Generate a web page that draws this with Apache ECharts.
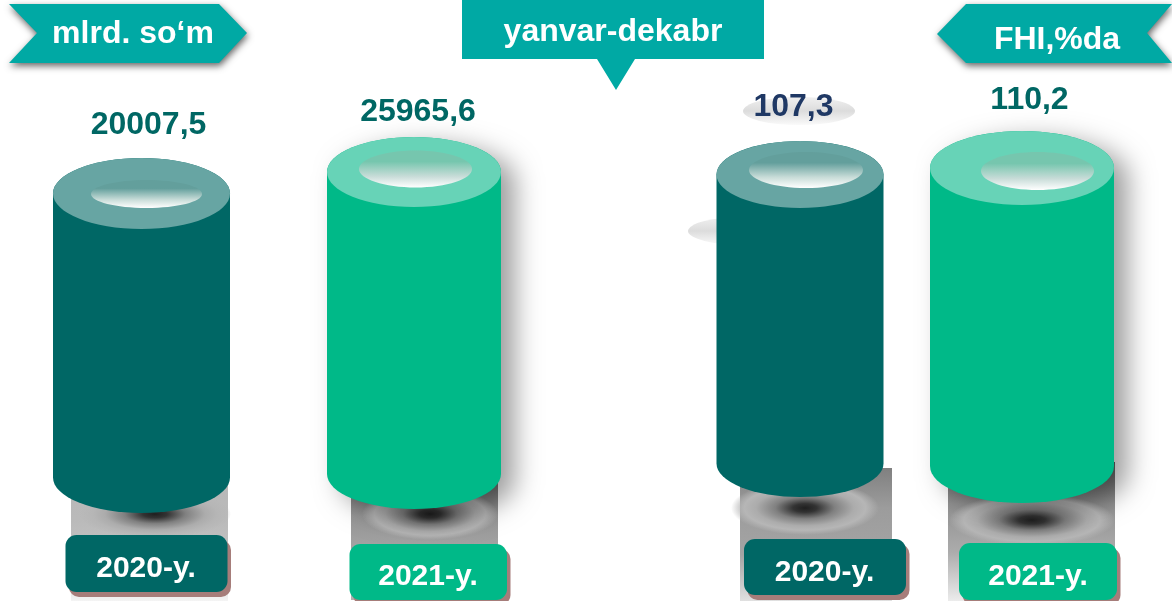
<!DOCTYPE html>
<html>
<head>
<meta charset="utf-8">
<script src="https://cdn.jsdelivr.net/npm/echarts@6/dist/echarts.min.js"></script>
<style>
  html, body { margin: 0; padding: 0; background: #fff; }
  #main { width: 1172px; height: 601px; }
</style>
</head>
<body>
<div id="main"></div>
<script>
var chartDom = document.getElementById('main');
var myChart = echarts.init(chartDom);

// data
let leftYears = ['2020-y.', '2021-y.'];
let leftValues = [20007.5, 25965.6];
let rightYears = ['2020-y.', '2021-y.'];
let rightValues = [107.3, 110.2];
let unitLeft = 'mlrd. so‘m';
let unitRight = 'FHI,%da';
let period = 'yanvar-dekabr';

const FONT = '"Liberation Sans", Arial, sans-serif';
const DARK = ['#006765', '#67a5a3', '#639f9c'];
const GREEN = ['#00b988', '#67d3b7', '#76c6ae'];
const TEAL = '#00a9a4';

// look of each cylinder, pixels, not data
let leftLook = [
  { colors: DARK, rx: 88.5, ry: 35.5, bottom: 513, hole: [146.5, 194, 55.5, 14], labelDx: 7, labelY: 125.5, labelColor: '#006764',
    patch: [71, 485, 157, 116], patchStops: ['#b8b8b8', '#bababa', '#c4c4c4', '#f4f4f4'], blob: [155, 514, 76, 24],
    btn: [65.5, 535, 162, 57], btnText: [146, 569] },
  { colors: GREEN, rx: 87, ry: 35, bottom: 509, hole: [415.5, 169, 56.5, 18.5], labelDx: 4, labelY: 112.5, labelColor: '#006764', shadow: true,
    patch: [351, 480, 147, 120], patchStops: ['#707070', '#959595', '#a8a8a8', '#b0b0b0'], blob: [430, 514, 68, 26],
    btn: [349.5, 544, 157.5, 56], btnText: [428, 577] }
];
let rightLook = [
  { colors: DARK, rx: 83.5, ry: 33.5, bottom: 497, hole: [806, 170, 57, 18], labelDx: -6.5, labelY: 107.5, labelColor: '#1f3864',
    patch: [740, 468, 152, 133], patchStops: ['#808080', '#9c9c9c', '#a4a4a4', '#e0e0e0'], blob: [805, 508, 74, 27],
    btn: [744, 539, 162, 56], btnText: [824.5, 573] },
  { colors: GREEN, rx: 92, ry: 37, bottom: 503, hole: [1037.5, 171, 56.5, 19], labelDx: 7.5, labelY: 100.5, labelColor: '#006764', shadow: true,
    patch: [948, 462, 167, 139], patchStops: ['#606060', '#909090', '#acacac', '#ececec'], blob: [1032, 520, 83, 26],
    btn: [959, 543, 158, 57], btnText: [1038, 577] }
];

function formatValue(v) {
  return String(v).replace('.', ',');
}

function softEllipse(cx, cy, rx, ry, stops, z) {
  return {
    type: 'circle', x: cx, y: cy, scaleX: rx, scaleY: ry, z2: z,
    shape: { cx: 0, cy: 0, r: 1 },
    style: { fill: new echarts.graphic.RadialGradient(0.5, 0.5, 0.5, stops) }
  };
}

function cylinder(look, years) {
  return function (params, api) {
    let i = api.value(0);
    let look1 = look[i];
    let top = api.coord([i, api.value(1)]);
    let cx = top[0], cy = top[1];
    let rx = look1.rx, ry = look1.ry;
    let side = look1.bottom - ry;
    let left = cx - rx, right = cx + rx;
    let bodyPath = 'M' + left + ' ' + cy + 'L' + left + ' ' + side +
      'A' + rx + ' ' + ry + ' 0 0 0 ' + right + ' ' + side +
      'L' + right + ' ' + cy +
      'A' + rx + ' ' + ry + ' 0 0 0 ' + left + ' ' + cy + 'Z';
    let p = look1.patch, s = look1.patchStops, b = look1.blob, h = look1.hole, n = look1.btn;
    let bodyStyle = { fill: look1.colors[0] };
    if (look1.shadow) {
      bodyStyle.shadowColor = 'rgba(0,0,0,0.38)';
      bodyStyle.shadowBlur = 26;
      bodyStyle.shadowOffsetX = 14;
      bodyStyle.shadowOffsetY = 8;
    }
    return {
      type: 'group',
      children: [
        // ground shadow
        {
          type: 'rect', z2: 1,
          shape: { x: p[0], y: p[1], width: p[2], height: p[3] },
          style: {
            fill: new echarts.graphic.LinearGradient(0, 0, 0, 1, [
              { offset: 0, color: s[0] },
              { offset: 0.3, color: s[1] },
              { offset: 0.65, color: s[2] },
              { offset: 1, color: s[3] }
            ])
          }
        },
        softEllipse(b[0], b[1], b[2], b[3], [
          { offset: 0, color: '#1f1f1f' },
          { offset: 0.16, color: '#333333' },
          { offset: 0.4, color: '#808080' },
          { offset: 0.66, color: '#acacac' },
          { offset: 0.82, color: '#b6b6b6' },
          { offset: 1, color: 'rgba(182,182,182,0)' }
        ], 2),
        { type: 'path', z2: 3, shape: { pathData: bodyPath }, style: bodyStyle },
        { type: 'ellipse', z2: 4, shape: { cx: cx, cy: cy, rx: rx, ry: ry }, style: { fill: look1.colors[1] } },
        {
          type: 'ellipse', z2: 5,
          shape: { cx: h[0], cy: h[1], rx: h[2], ry: h[3] },
          style: {
            fill: new echarts.graphic.LinearGradient(0, 0, 0, 1, [
              { offset: 0, color: look1.colors[2] },
              { offset: 0.3, color: look1.colors[2] },
              { offset: 0.7, color: '#c8dcd8' },
              { offset: 1, color: '#ffffff' }
            ])
          }
        },
        // value
        {
          type: 'text', z2: 7,
          style: {
            text: formatValue(api.value(1)), x: cx + look1.labelDx, y: look1.labelY,
            align: 'center', verticalAlign: 'middle',
            fontFamily: FONT, fontWeight: 'bold', fontSize: 32, fill: look1.labelColor
          }
        },
        // year button
        {
          type: 'rect', z2: 8,
          shape: { x: n[0] + 3.5, y: n[1] + 5, width: n[2], height: n[3], r: 10 },
          style: { fill: '#a67d7a' }
        },
        {
          type: 'rect', z2: 9,
          shape: { x: n[0], y: n[1], width: n[2], height: n[3], r: 11 },
          style: { fill: look1.colors[0] }
        },
        {
          type: 'text', z2: 10,
          style: {
            text: years[i], x: look1.btnText[0], y: look1.btnText[1],
            align: 'center', verticalAlign: 'middle',
            fontFamily: FONT, fontWeight: 'bold', fontSize: 30, fill: '#fff'
          }
        }
      ]
    };
  };
}

function seriesData(values) {
  return values.map(function (v, i) { return [i, v]; });
}

function banner(points, text, tx, ty, shadow) {
  let shape = {
    type: 'polygon',
    shape: { points: points },
    style: { fill: TEAL }
  };
  if (shadow) {
    shape.style.shadowColor = 'rgba(0,0,0,0.6)';
    shape.style.shadowBlur = 7;
    shape.style.shadowOffsetX = 1;
    shape.style.shadowOffsetY = 3;
  }
  return {
    type: 'group',
    children: [
      shape,
      {
        type: 'text', z: 10,
        style: {
          text: text, x: tx, y: ty, align: 'center', verticalAlign: 'middle',
          fontFamily: FONT, fontWeight: 'bold', fontSize: 32, fill: '#fff'
        }
      }
    ]
  };
}

function softSpot(x, y) {
  return {
    type: 'circle', x: x, y: y, scaleX: 56, scaleY: 14, z: -1,
    shape: { cx: 0, cy: 0, r: 1 },
    style: {
      fill: new echarts.graphic.LinearGradient(0, 0, 0, 1, [
        { offset: 0, color: '#f0f0f0' },
        { offset: 0.5, color: '#dcdcdc' },
        { offset: 1, color: '#fafafa' }
      ])
    }
  };
}

let option = {
  animation: false,
  backgroundColor: '#fff',
  grid: [
    { left: 5.25, top: 0, width: 545, height: 601 },
    { left: 689, top: 0, width: 444, height: 601 }
  ],
  xAxis: [
    { gridIndex: 0, type: 'category', data: leftYears, show: false },
    { gridIndex: 1, type: 'category', data: rightYears, show: false }
  ],
  yAxis: [
    { gridIndex: 0, type: 'value', min: -92920, max: 73630, show: false },
    { gridIndex: 1, type: 'value', min: -82.98, max: 185.15, show: false }
  ],
  graphic: [
    banner([[9, 4], [219, 4], [247, 33], [219, 63], [9, 63], [37, 33]], unitLeft, 133, 34, true),
    banner([[937, 34], [966, 4], [1172, 4], [1147, 33], [1172, 63], [966, 63]], unitRight, 1057, 40, true),
    banner([[462, 0], [764, 0], [764, 59], [635, 59], [616, 90], [597, 59], [462, 59]], period, 613, 32, false),
    // stray soft ellipses from the slide
    softSpot(799, 111),
    softSpot(744, 231)
  ],
  series: [
    {
      type: 'custom', xAxisIndex: 0, yAxisIndex: 0, clip: false,
      renderItem: cylinder(leftLook, leftYears),
      data: seriesData(leftValues)
    },
    {
      type: 'custom', xAxisIndex: 1, yAxisIndex: 1, clip: false,
      renderItem: cylinder(rightLook, rightYears),
      data: seriesData(rightValues)
    }
  ]
};

option && myChart.setOption(option);
</script>
</body>
</html>
